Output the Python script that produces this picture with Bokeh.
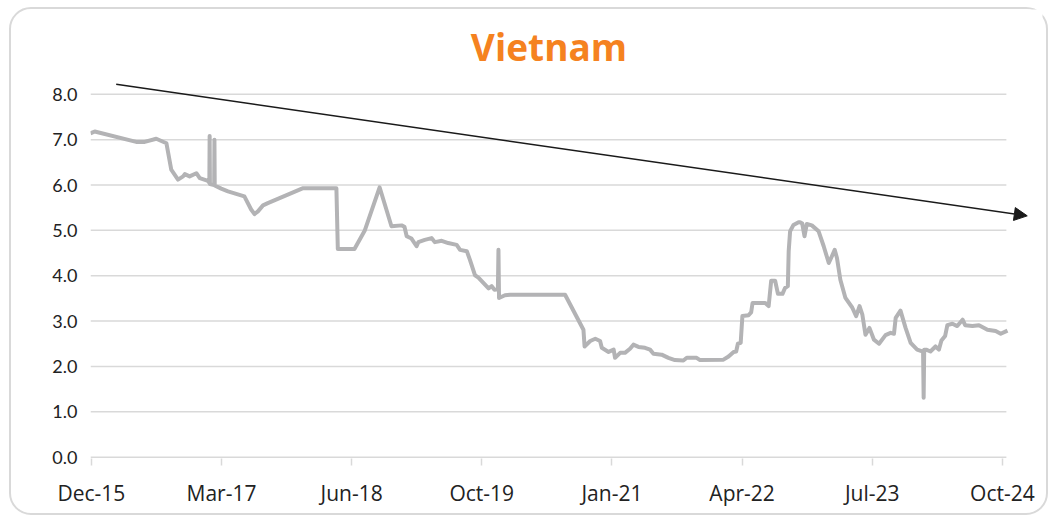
import numpy as np
import pandas as pd
from bokeh.plotting import figure
from bokeh.models import Range1d, FixedTicker, Arrow, NormalHead
from bokeh.core.properties import value
from bokeh.embed import file_html
from bokeh.resources import INLINE

# ---------------- data ----------------
title_text = "Vietnam"

dates = [
    "2015-12-17", "2016-01-01", "2016-05-27", "2016-06-26", "2016-08-06", "2016-09-11",
    "2016-09-28", "2016-10-22", "2016-11-09", "2016-11-15", "2016-12-02", "2016-12-26",
    "2017-01-07", "2017-02-05", "2017-02-10", "2017-02-11", "2017-02-12", "2017-02-27",
    "2017-02-28", "2017-03-01", "2017-03-24", "2017-04-17", "2017-06-14", "2017-07-08",
    "2017-07-20", "2017-08-01", "2017-08-19", "2017-09-05", "2018-01-08", "2018-05-06",
    "2018-05-11", "2018-07-09", "2018-08-14", "2018-10-06", "2018-11-17", "2018-12-23",
    "2019-01-02", "2019-01-10", "2019-01-27", "2019-02-14", "2019-02-20", "2019-03-15",
    "2019-04-08", "2019-04-20", "2019-05-14", "2019-06-06", "2019-07-06", "2019-07-18",
    "2019-08-11", "2019-08-22", "2019-09-09", "2019-09-21", "2019-10-27", "2019-11-07",
    "2019-11-17", "2019-11-29", "2019-12-01", "2019-12-03", "2019-12-24", "2020-01-11",
    "2020-07-24", "2020-09-27", "2020-10-01", "2020-10-21", "2020-11-08", "2020-11-25",
    "2020-12-01", "2020-12-25", "2021-01-12", "2021-01-17", "2021-02-04", "2021-02-21",
    "2021-03-11", "2021-03-23", "2021-04-10", "2021-05-03", "2021-05-21", "2021-06-02",
    "2021-07-01", "2021-07-25", "2021-08-17", "2021-09-16", "2021-09-28", "2021-11-02",
    "2021-11-14", "2022-02-05", "2022-02-23", "2022-03-13", "2022-03-22", "2022-03-28",
    "2022-04-07", "2022-04-13", "2022-05-05", "2022-05-14", "2022-05-19", "2022-07-03",
    "2022-07-15", "2022-07-24", "2022-08-07", "2022-08-17", "2022-09-02", "2022-09-11",
    "2022-09-21", "2022-09-24", "2022-09-29", "2022-10-11", "2022-10-29", "2022-11-03",
    "2022-11-11", "2022-11-19", "2022-11-27", "2022-12-15", "2023-01-08", "2023-01-26",
    "2023-02-13", "2023-02-24", "2023-03-06", "2023-03-14", "2023-03-26", "2023-04-13",
    "2023-05-07", "2023-05-21", "2023-06-02", "2023-06-12", "2023-06-23", "2023-07-07",
    "2023-07-23", "2023-08-10", "2023-09-02", "2023-09-20", "2023-10-02", "2023-10-08",
    "2023-10-25", "2023-11-12", "2023-11-30", "2023-12-23", "2024-01-10", "2024-01-13",
    "2024-01-15", "2024-01-17", "2024-01-24", "2024-02-08", "2024-02-26", "2024-03-09",
    "2024-03-18", "2024-03-31", "2024-04-08", "2024-04-26", "2024-05-13", "2024-06-01",
    "2024-06-10", "2024-07-06", "2024-07-29", "2024-08-28", "2024-09-26", "2024-10-14",
    "2024-11-07",
]

rates = [
    7.14, 7.18, 6.95, 6.95, 7.02, 6.92,
    6.34, 6.12, 6.19, 6.24, 6.19, 6.26,
    6.15, 6.09, 6.05, 7.08, 6.02, 6.00,
    7.00, 5.99, 5.92, 5.86, 5.75, 5.46,
    5.36, 5.42, 5.55, 5.60, 5.93, 5.93,
    4.59, 4.59, 4.99, 5.95, 5.09, 5.11,
    5.08, 4.87, 4.82, 4.65, 4.74, 4.79,
    4.83, 4.74, 4.77, 4.72, 4.68, 4.57,
    4.54, 4.35, 4.01, 3.96, 3.72, 3.77,
    3.69, 3.70, 4.57, 3.51, 3.57, 3.58,
    3.58, 2.81, 2.44, 2.56, 2.61, 2.56,
    2.41, 2.32, 2.37, 2.19, 2.30, 2.30,
    2.39, 2.48, 2.43, 2.41, 2.37, 2.28,
    2.26, 2.19, 2.14, 2.13, 2.19, 2.19,
    2.14, 2.15, 2.22, 2.32, 2.33, 2.50,
    2.52, 3.11, 3.13, 3.19, 3.40, 3.40,
    3.33, 3.89, 3.89, 3.60, 3.60, 3.73,
    3.77, 4.54, 4.98, 5.12, 5.18, 5.18,
    5.15, 4.87, 5.14, 5.11, 4.98, 4.65,
    4.28, 4.43, 4.57, 4.39, 3.91, 3.51,
    3.30, 3.11, 3.33, 3.14, 2.70, 2.85,
    2.59, 2.50, 2.69, 2.74, 2.72, 3.07,
    3.23, 2.85, 2.52, 2.37, 2.33, 2.33,
    1.31, 2.37, 2.37, 2.33, 2.44, 2.37,
    2.57, 2.67, 2.91, 2.94, 2.89, 3.03,
    2.91, 2.89, 2.91, 2.81, 2.78, 2.72,
    2.79,
]

tick_dates = ["2015-12-20", "2017-03-25", "2018-06-29", "2019-10-03",
              "2021-01-06", "2022-04-12", "2023-07-17", "2024-10-20"]
tick_labels = ["Dec-15", "Mar-17", "Jun-18", "Oct-19",
               "Jan-21", "Apr-22", "Jul-23", "Oct-24"]

y_ticks = [0, 1, 2, 3, 4, 5, 6, 7, 8]
y_tick_labels = ["0.0", "1.0", "2.0", "3.0", "4.0", "5.0", "6.0", "7.0", "8.0"]

trend_dates = ["2016-03-17", "2025-01-16"]
trend_values = [8.22, 5.32]


def to_ms(s):
    return pd.to_datetime(s).values.astype("datetime64[ms]").astype("int64")


x_ms = to_ms(dates)
tick_ms = [int(t) for t in to_ms(tick_dates)]
trend_ms = to_ms(trend_dates)

x_start = int(to_ms(["2015-12-17"])[0])
x_end = int(to_ms(["2025-03-11"])[0])
grid_end = int(to_ms(["2024-11-03"])[0])
title_x = int(to_ms(["2020-05-28"])[0])

GRID = "#d9d9d9"
LINE = "#b3b3b5"

p = figure(width=1039, height=508, output_backend="svg", toolbar_location=None,
           x_range=Range1d(x_start, x_end), y_range=Range1d(-0.03, 9.87),
           min_border_left=79, min_border_right=8, min_border_top=0,
           min_border_bottom=59)
p.xgrid.visible = False
p.ygrid.visible = False
p.outline_line_color = None
p.border_fill_color = None
p.background_fill_color = "white"
p.styles = {"border": "2px solid #d9d9d9", "border-radius": "22px",
            "margin-left": "9px", "margin-top": "7px"}

# gridlines (only up to end of data)
p.segment(x0=[x_start] * len(y_ticks), x1=[grid_end] * len(y_ticks),
          y0=y_ticks, y1=y_ticks, line_color=GRID, line_width=1.5)

# series
p.line(x=x_ms, y=rates, line_color=LINE, line_width=4, line_join="round")

# trend arrow
p.add_layout(Arrow(end=NormalHead(size=13, fill_color="#1a1a1a", line_color="#1a1a1a"),
                   x_start=float(trend_ms[0]), y_start=trend_values[0],
                   x_end=float(trend_ms[1]), y_end=trend_values[1],
                   line_color="#1a1a1a", line_width=1.5))

# title
p.text(x=[title_x], y=[9.05], text=[title_text], text_font=value("Open Sans"),
       text_font_style="bold", text_font_size="37px", text_color="#F58220",
       text_align="center", text_baseline="middle")

# x axis
xa = p.xaxis[0]
xa.ticker = FixedTicker(ticks=tick_ms)
xa.major_label_overrides = {t: l for t, l in zip(tick_ms, tick_labels)}
xa.axis_line_color = None
xa.major_tick_line_color = GRID
xa.major_tick_line_width = 1.5
xa.major_tick_out = 7
xa.major_tick_in = 0
xa.minor_tick_line_color = None
xa.major_label_standoff = 13
xa.major_label_text_font = "Open Sans"
xa.major_label_text_font_size = "21px"
xa.major_label_text_color = "#222222"

# y axis
ya = p.yaxis[0]
ya.ticker = FixedTicker(ticks=y_ticks)
ya.major_label_overrides = {t: l for t, l in zip(y_ticks, y_tick_labels)}
ya.axis_line_color = None
ya.major_tick_line_color = None
ya.minor_tick_line_color = None
ya.major_tick_out = 0
ya.major_tick_in = 0
ya.major_label_standoff = 13
ya.major_label_text_font = "Lato"
ya.major_label_text_font_size = "18px"
ya.major_label_text_color = "#222222"

open("out.html", "w").write(file_html(p, INLINE))
